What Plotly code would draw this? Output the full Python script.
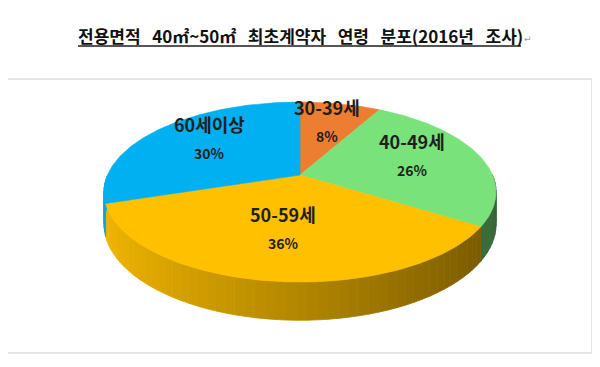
import numpy as np
import plotly.graph_objects as go

# ---- data ----
categories = ["30-39세", "40-49세", "50-59세", "60세이상"]
shares = [8, 26, 36, 30]
pct_labels = ["8%", "26%", "36%", "30%"]
colors = ["#ED7D31", "#7AE27A", "#FFC000", "#00B0F0"]
SP = "\u00a0\u00a0\u00a0"
title_text = "전용면적" + SP + "40㎡~50㎡" + SP + "최초계약자" + SP + "연령" + SP + "분포(2016년" + SP + "조사)"

# ---- 3D pie geometry (pixel space of the 600x367 window) ----
CX, CY = 300.0, 175.0
R, RS, K, DEPTH = 192.5, 86.8, 0.189, 31.0
LABEL_R = 0.62
OFF = 8  # page body margin


def proj(u, v, drop=0.0):
    d = 1 + K * v
    return CX + R * u / d, CY - RS * v / d + drop / d


def hex_rgb(h):
    h = h.lstrip("#")
    return tuple(int(h[i:i + 2], 16) for i in (0, 2, 4))


def shade(h, f):
    r, g, b = hex_rgb(h)
    return "rgb(%d,%d,%d)" % (min(255, r * f), min(255, g * f), min(255, b * f))


fig = go.Figure()

total = float(sum(shares))
cum = np.concatenate([[0], np.cumsum(shares)]) / total
starts = 90 - 360 * cum[:-1]
ends = 90 - 360 * cum[1:]

# side walls (front half only), shaded strips
for i in range(len(shares)):
    n = max(2, int(abs(starts[i] - ends[i]) / 2.5) + 1)
    ts = np.linspace(starts[i], ends[i], n)
    for a, b in zip(ts[:-1], ts[1:]):
        m = np.radians((a + b) / 2)
        if np.sin(m) >= 0:
            continue
        ra, rb = np.radians(a), np.radians(b)
        pts = [proj(np.cos(ra), np.sin(ra)), proj(np.cos(rb), np.sin(rb)),
               proj(np.cos(rb), np.sin(rb), DEPTH), proj(np.cos(ra), np.sin(ra), DEPTH)]
        f = 0.70 - 0.26 * np.cos(m)
        col = shade(colors[i], f)
        xs = [p[0] for p in pts] + [pts[0][0]]
        ys = [p[1] for p in pts] + [pts[0][1]]
        fig.add_trace(go.Scatter(x=xs, y=ys, mode="lines", fill="toself",
                                 fillcolor=col, line=dict(color=col, width=0.8),
                                 hoverinfo="skip", showlegend=False))

# top faces
for i in range(len(shares)):
    n = max(3, int(abs(starts[i] - ends[i]) / 1.0) + 1)
    ts = np.radians(np.linspace(starts[i], ends[i], n))
    rim = [proj(np.cos(t), np.sin(t)) for t in ts]
    xs = [CX] + [p[0] for p in rim] + [CX]
    ys = [CY] + [p[1] for p in rim] + [CY]
    fig.add_trace(go.Scatter(x=xs, y=ys, mode="lines", fill="toself",
                             fillcolor=colors[i], line=dict(color=colors[i], width=0.6),
                             hoverinfo="skip", showlegend=False,
                             name=categories[i]))

# data labels
for i in range(len(shares)):
    m = np.radians((starts[i] + ends[i]) / 2)
    lx, ly = proj(LABEL_R * np.cos(m), LABEL_R * np.sin(m))
    fig.add_annotation(x=lx, y=ly, xref="x", yref="y", text="<b>%s</b>" % categories[i],
                       showarrow=False, yshift=21,
                       font=dict(family="Noto Sans CJK KR", size=18, color="#1f1f1f"))
    fig.add_annotation(x=lx, y=ly, xref="x", yref="y", text="<b>%s</b>" % pct_labels[i],
                       showarrow=False, yshift=-8,
                       font=dict(family="Noto Sans CJK KR", size=14, color="#1f1f1f"))

# title
fig.add_annotation(x=300, y=35, xref="x", yref="y", text="<b>%s</b>" % title_text,
                   showarrow=False,
                   font=dict(family="Noto Sans CJK KR", size=17, color="#111111"))
fig.add_annotation(x=528, y=39, xref="x", yref="y", text="↵", showarrow=False,
                   font=dict(family="DejaVu Sans", size=9, color="#999999"))
fig.add_shape(type="line", x0=78, x1=521, y0=46, y1=46, xref="x", yref="y",
              line=dict(color="#555555", width=2))
# chart frame
fig.add_shape(type="rect", x0=-3, x1=592, y0=79, y1=353, xref="x", yref="y",
              line=dict(color="#E6E6E6", width=2), layer="below")

fig.update_layout(
    width=600 - OFF, height=367 - OFF,
    margin=dict(l=0, r=0, t=0, b=0),
    paper_bgcolor="white", plot_bgcolor="white",
    xaxis=dict(range=[OFF, 600], visible=False, fixedrange=True),
    yaxis=dict(range=[367, OFF], visible=False, fixedrange=True),
    showlegend=False,
)

fig.write_html("out.html")
